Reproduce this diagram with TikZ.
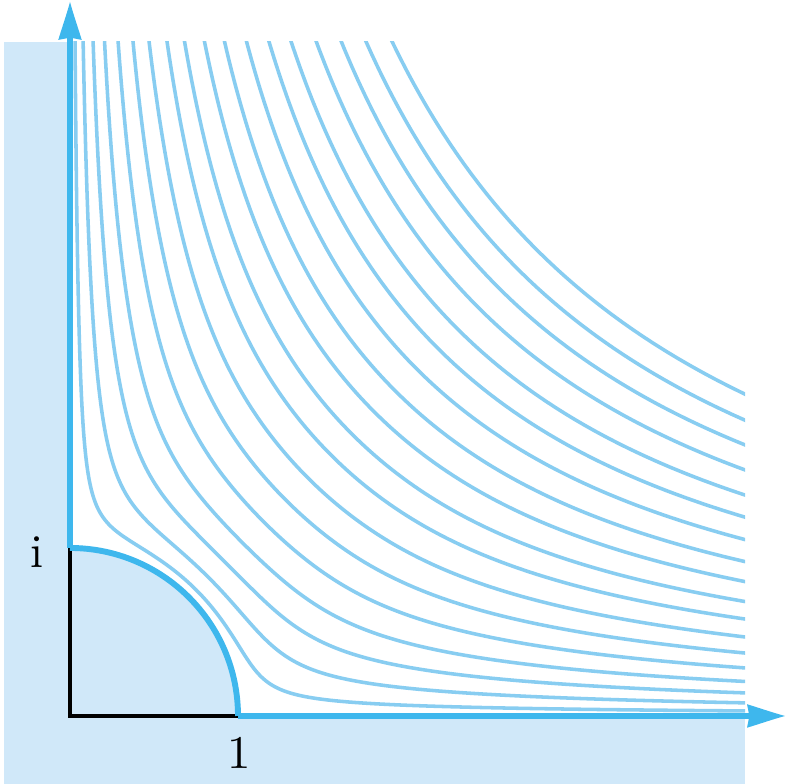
\documentclass[tikz,border=0pt]{standalone}
\usetikzlibrary{calc}
\definecolor{bgblue}{RGB}{208,232,249}
\definecolor{streamblue}{RGB}{136,205,241}
\definecolor{axisblue}{RGB}{62,183,237}
\tikzset{
  streamline/.style={draw=streamblue, line width=1.8pt},
  axisline/.style={draw=axisblue, line width=3pt},
  blackline/.style={draw=black, line width=1.8pt},
  lbl/.style={inner sep=0pt, font=\normalsize, scale=2.38},
  pics/ahead/.style={code={
    \fill[axisblue] (0,0) .. controls (-0.08,0.022) and (-0.16,0.05) .. (-0.226,0.07)
      -- (-0.212,0) -- (-0.226,-0.07) .. controls (-0.16,-0.05) and (-0.08,-0.022) .. (0,0) -- cycle;
  }}
}
\begin{document}
\begin{tikzpicture}[x=3cm,y=3cm]
\useasboundingbox (-0.4167,-0.4048) rectangle (4.2798,4.2619);
% background
\fill[bgblue] (-0.393,-0.4048) rectangle (4.018,4.012);
\fill[white] (0,0) rectangle (4.018,4.012);
\fill[bgblue] (0,0) -- (1,0) arc[start angle=0,end angle=90,radius=1] -- cycle;
% streamlines psi = (r^2 - r^-2) sin(2 theta) = c
\begin{scope}
\clip (0,0) rectangle (4.018,4.012);
\foreach \c in {0.24,0.625,1.10,1.645,2.29,3.0,3.765,4.62,5.455,6.405,7.36,8.41,9.48,10.535,11.735,12.93,14.11,15.355} {
  \pgfmathsetmacro\tmin{0.88*atan(\c/32)}
  \pgfmathsetmacro\tspan{90-2*\tmin}
  \draw[streamline, declare function={th(\u)=\tmin+\tspan*(1-cos(\u))/2;
      rr(\a)=sqrt((\c+sqrt(\c*\c+4*sin(2*\a)^2))/(2*sin(2*\a)));}]
    plot[domain=0:180, samples=320, variable=\u] ({th(\u)}:{rr(th(\u))});
}
\end{scope}
% coordinates
\coordinate (O) at (0,0);
\coordinate (X1) at (1,0);
\coordinate (Y1) at (0,1);
\coordinate (XT) at (4.256,0);
\coordinate (YT) at (0,4.25);
% black radii
\draw[blackline] (Y1) -- (O) -- (X1);
% axes
\draw[axisline] (X1) -- ($(XT)+(-0.2,0)$);
\draw[axisline] (Y1) -- ($(YT)+(0,-0.2)$);
\pic at (XT) {ahead};
\pic[rotate=90] at (YT) {ahead};
% arc
\draw[axisline] (X1) arc[start angle=0,end angle=90,radius=1];
% labels
\node[lbl] (li) at (-0.196,0.976) {i};
\node[lbl] (l1) at (1.006,-0.22) {1};
\end{tikzpicture}
\end{document}
